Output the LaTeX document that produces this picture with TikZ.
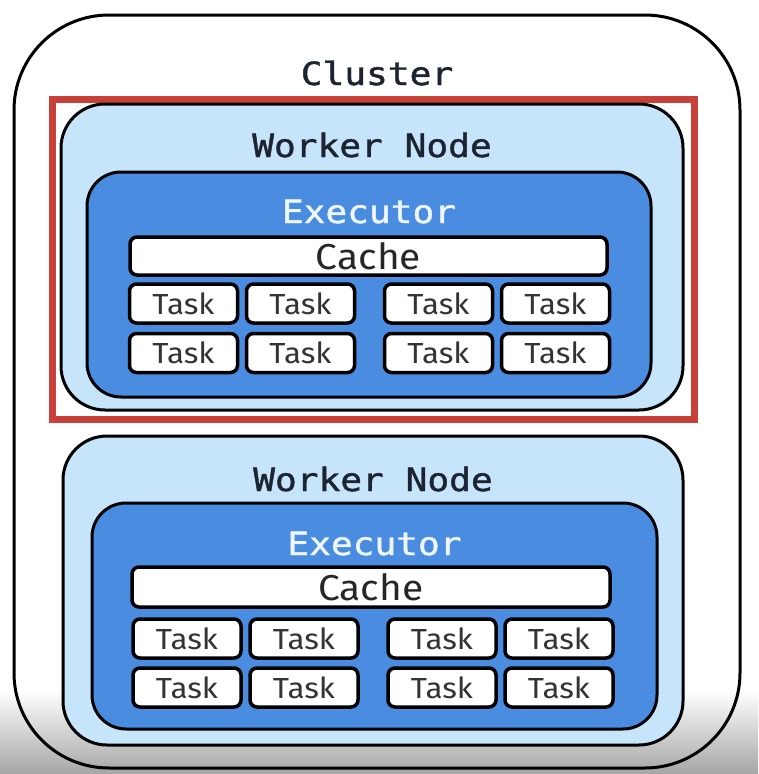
\documentclass[tikz,border=0pt]{standalone}
\usepackage{fontspec}
\setmonofont[FakeStretch=1.13, FakeBold=1.3]{DejaVu Sans Mono}
\setsansfont[FakeStretch=1.08]{Fira Sans}
\definecolor{workerblue}{HTML}{C6E4FA}
\definecolor{execblue}{HTML}{4A8CE0}
\definecolor{focusred}{HTML}{C8403A}
\definecolor{titleink}{HTML}{1C2331}
\definecolor{execink}{HTML}{EEF6FF}

\begin{document}
\begin{tikzpicture}[x=1pt, y=-1pt, node distance=117pt]
    \tikzstyle{box} = [rectangle, draw=black, line width=3pt]
    \tikzstyle{title} = [anchor=base, inner sep=0pt, font=\ttfamily\fontsize{32}{34}\selectfont, text=titleink]
    \tikzstyle{cache} = [rectangle, rounded corners=7pt, minimum width=477pt, minimum height=38pt, text centered, draw=black, line width=3.5pt, fill=white, inner sep=0pt, font=\sffamily\fontsize{36}{38}\selectfont, text=black!85]
    \tikzstyle{task} = [rectangle, rounded corners=7pt, minimum width=108pt, minimum height=39pt, text centered, draw=black, line width=3.5pt, fill=white, inner sep=0pt, font=\sffamily\fontsize{29}{30}\selectfont, text=black!80]
    \useasboundingbox (0,0) rectangle (758,774);
    \fill[white] (0,0) rectangle (758,690);
    \shade[top color=white, bottom color=black!35] (0,690) rectangle (758,774);
    % cluster frame
    \node[box, rounded corners=95pt, minimum width=726pt, minimum height=753pt](Cluster) at (377,391.5) {};
    \node[title](ClusterLabel) at (377,85) {Cluster};
    \node[rectangle, draw=focusred, line width=7pt, minimum width=642pt, minimum height=320pt](Focus) at (373,259) {};
    % first worker
    \node[box, rounded corners=44pt, fill=workerblue, minimum width=622pt, minimum height=306pt](WN1) at (372,257) {};
    \node[title](WN1Label) at (372,157) {Worker Node};
    \node[box, rounded corners=34pt, fill=execblue, minimum width=564pt, minimum height=225pt](EX1) at (369,284.5) {};
    \node[title, text=execink](EX1Label) at (369,223) {Executor};
    \node[cache](C1) at (368.5,256) {Cache};
    \node[task](T1a) at (183.5,303.5) {Task};
    \node[task, right of=T1a](T1b) {Task};
    \node[task, right of=T1b, xshift=21pt](T1c) {Task};
    \node[task, right of=T1c](T1d) {Task};
    \node[task](T1e) at (183.5,353) {Task};
    \node[task, right of=T1e](T1f) {Task};
    \node[task, right of=T1f, xshift=21pt](T1g) {Task};
    \node[task, right of=T1g](T1h) {Task};
    % second worker
    \node[box, rounded corners=44pt, fill=workerblue, minimum width=620pt, minimum height=309pt](WN2) at (373,590.5) {};
    \node[title](WN2Label) at (373,491) {Worker Node};
    \node[box, rounded corners=34pt, fill=execblue, minimum width=565pt, minimum height=226pt](EX2) at (374.5,616) {};
    \node[title, text=execink](EX2Label) at (374.5,555) {Executor};
    \node[cache, minimum width=478pt, minimum height=40pt](C2) at (371,587) {Cache};
    \node[task](T2a) at (187,638.5) {Task};
    \node[task, right of=T2a](T2b) {Task};
    \node[task, right of=T2b, xshift=21pt](T2c) {Task};
    \node[task, right of=T2c](T2d) {Task};
    \node[task](T2e) at (187,687.5) {Task};
    \node[task, right of=T2e](T2f) {Task};
    \node[task, right of=T2f, xshift=21pt](T2g) {Task};
    \node[task, right of=T2g](T2h) {Task};
\end{tikzpicture}
\end{document}
